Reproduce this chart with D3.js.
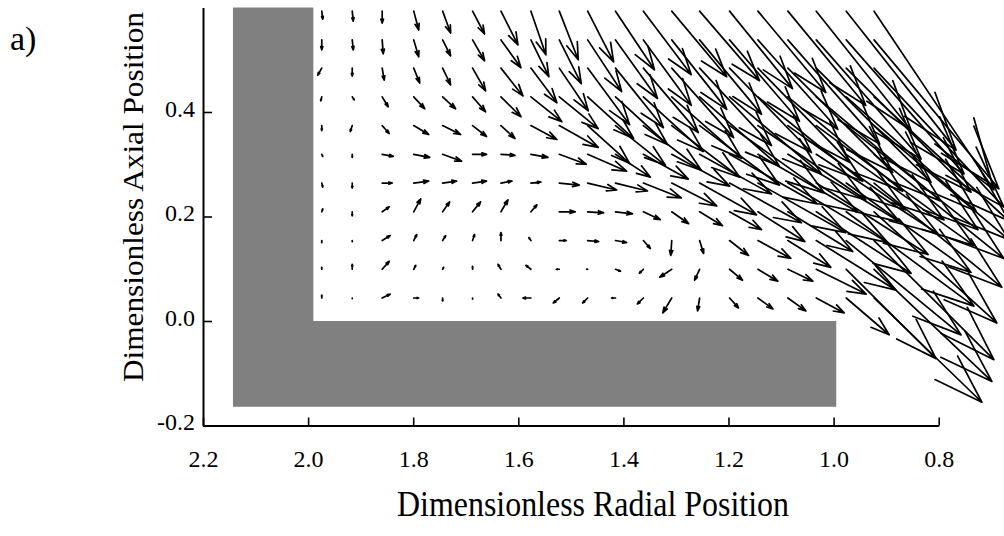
<!DOCTYPE html>
<html><head><meta charset="utf-8">
<script src="https://cdn.jsdelivr.net/npm/d3@7"></script>
<style>body{margin:0;background:#fff}svg{display:block}</style>
</head><body><svg id="c" width="1004" height="536"></svg>
<script>
// ---- data ----
const radialTicks = [2.2, 2.0, 1.8, 1.6, 1.4, 1.2, 1.0, 0.8];
const axialTicks = [-0.2, 0.0, 0.2, 0.4];
const gridR = [1.974, 1.916, 1.859, 1.799, 1.744, 1.687, 1.633, 1.576, 1.522, 1.468,
               1.415, 1.362, 1.308, 1.255, 1.198, 1.144, 1.087, 1.033, 0.976, 0.923];
const gridZ = [0.593, 0.538, 0.484, 0.429, 0.374, 0.319, 0.264, 0.209, 0.154, 0.099, 0.044];
// radial velocity component (positive = increasing radial position)
const vrRows = [
  [-1,-1,0,-5,-8,-12,-17,-15,-19,-26,-39,-48,-55,-60,-63,-68,-78,-95,-110,-120],
  [0,-1,-1,-5,-8,-12,-20,-18,-22,-34,-42,-48,-55,-62,-70,-80,-92,-105,-118,-125],
  [4,0,-2,-6,-8,-13,-22,-26,-29,-42,-48,-55,-62,-72,-82,-92,-105,-115,-125,-130],
  [1,-2,-6,-11,-13,-13,-20,-31,-39,-46,-52,-60,-70,-80,-92,-105,-115,-125,-130,-135],
  [0,2,-7,-15,-18,-14,-14,-26,-39,-42,-50,-58,-68,-80,-95,-108,-118,-128,-132,-135],
  [-1,0,-11,-16,-19,-14,-14,-17,-27,-39,-35,-45,-58,-72,-88,-100,-112,-122,-128,-130],
  [-1,0,-10,-15,-14,-14,-11,-10,-20,-29,-32,-38,-45,-57,-72,-88,-100,-112,-125,-128],
  [-1,0,-7,-7,-7,-8,-7,-6,-16,-16,-17,-17,-17,-23,-32,-47,-65,-95,-128,-123],
  [0,0,-8,-3,-3,-2,0,2,-7,-11,-11,-7,1,-4,-19,-33,-43,-80,-115,-120],
  [0,0,-7,-2,-1,0,3,5,3,1,-5,4,12,5,-13,-20,-25,-50,-90,-118],
  [0,0,-8,-5,0,0,3,8,6,5,4,6,9,2,-9,-15,-18,-28,-43,-108]
];
// axial velocity component (positive = increasing axial position)
const vzRows = [
  [-8,-10,-12,-19,-22,-23,-34,-44,-49,-51,-59,-64,-66,-70,-78,-82,-95,-120,-140,-180],
  [-10,-10,-14,-17,-16,-21,-28,-37,-44,-52,-59,-66,-70,-75,-82,-90,-105,-120,-135,-150],
  [-7,-8,-12,-15,-17,-23,-28,-35,-43,-57,-60,-65,-70,-78,-85,-95,-105,-115,-125,-140],
  [-4,-3,-10,-12,-12,-15,-20,-25,-32,-42,-48,-55,-62,-70,-78,-85,-95,-105,-115,-125],
  [-5,-6,-8,-9,-9,-11,-13,-14,-22,-38,-40,-45,-52,-60,-68,-75,-85,-95,-105,-115],
  [-2,-3,-2,-3,-7,0,-1,-3,-10,-17,-23,-25,-32,-40,-50,-58,-68,-80,-92,-105],
  [-4,-5,0,2,2,2,2,1,-2,-7,-8,-15,-23,-32,-40,-50,-60,-72,-90,-105],
  [3,-4,5,13,10,10,12,7,0,-1,-2,-8,-12,-14,-18,-30,-40,-62,-95,-112],
  [-2,-1,5,6,5,6,8,3,0,-1,-2,-8,-15,-13,-15,-18,-27,-50,-95,-120],
  [2,5,8,4,2,3,5,4,0,0,-2,-4,-8,-11,-11,-12,-12,-25,-90,-113],
  [3,-0.5,4,0,-3,-1,4,0,-5,-5,0,-6,-15,-13,-10,-11,-13,-15,-37,-105]
];
const blockR = [2.143, 1.99, 1.99, 0.995, 0.995, 2.143];
const blockZ = [0.6, 0.6, 0.0, 0.0, -0.164, -0.164];
const arrowScale = 0.0019;
const xTitle = "Dimensionless Radial Position";
const yTitle = "Dimensionless Axial Position";
const panelLabel = "a)";

// ---- drawing ----
const FONT = "'Liberation Serif','Times New Roman',Times,serif";
const svg = d3.select('#c');
svg.append('rect').attr('width',1004).attr('height',536).attr('fill','#fff');
const x = d3.scaleLinear().domain([2.2, 0.8]).range([203, 938.7]);
const y = d3.scaleLinear().domain([-0.2, 0.6]).range([425.5, 7.5]);

// block
const blockPts = blockR.map((r,i)=>[x(r), y(blockZ[i])]);
svg.append('path').attr('d', d3.line()(blockPts) + 'Z').attr('fill','#808080');

// arrows
const alpha = 0.33, beta = 0.33;
const ag = svg.append('g').attr('stroke','#000').attr('stroke-width',1.7)
  .attr('fill','none').attr('stroke-linecap','round').attr('stroke-linejoin','round');
gridZ.forEach((z,j)=>{
  gridR.forEach((r,i)=>{
    const x0 = x(r), y0 = y(z);
    const x1 = x(r + vrRows[j][i]*arrowScale), y1 = y(z + vzRows[j][i]*arrowScale);
    const u = x1-x0, v = y1-y0;
    const b1x = x1 - alpha*(u + beta*v), b1y = y1 - alpha*(v - beta*u);
    const b2x = x1 - alpha*(u - beta*v), b2y = y1 - alpha*(v + beta*u);
    ag.append('path').attr('d',
      `M${x0},${y0}L${x1},${y1}M${b1x},${b1y}L${x1},${y1}L${b2x},${b2y}`);
  });
});

// axes
const fmt = d => d3.format('.1f')(d).replace('\u2212','-');
const xAxis = d3.axisBottom(x).tickValues(radialTicks).tickSize(-8).tickSizeOuter(0).tickFormat(fmt);
const gx = svg.append('g').attr('transform',`translate(0,${y(-0.2)})`).call(xAxis);
const yAxis = d3.axisLeft(y).tickValues(axialTicks).tickSize(-9).tickSizeOuter(0).tickFormat(fmt);
const gy = svg.append('g').attr('transform',`translate(${x(2.2)},0)`).call(yAxis);
[gx, gy].forEach(g=>{
  g.select('.domain').attr('stroke','#000').attr('stroke-width',2);
  g.selectAll('.tick line').attr('stroke','#000').attr('stroke-width',1.6);
  g.selectAll('.tick text').attr('fill','#000').style('font-family',FONT).style('font-size','24px');
});
gx.selectAll('.tick text').attr('y',41.5).attr('dy',null);
gy.selectAll('.tick text').attr('x',-8).attr('dy',null).attr('y',4);

// titles
svg.append('text').attr('x',593).attr('y',516).attr('text-anchor','middle')
  .attr('textLength',392).attr('lengthAdjust','spacingAndGlyphs')
  .style('font-family',FONT).style('font-size','36px').text(xTitle);
svg.append('text').attr('transform','translate(143,197) rotate(-90)').attr('text-anchor','middle')
  .attr('textLength',370).attr('lengthAdjust','spacingAndGlyphs')
  .style('font-family',FONT).style('font-size','30px').text(yTitle);
svg.append('text').attr('x',10).attr('y',50)
  .style('font-family',FONT).style('font-size','34px').text(panelLabel);
</script></body></html>
